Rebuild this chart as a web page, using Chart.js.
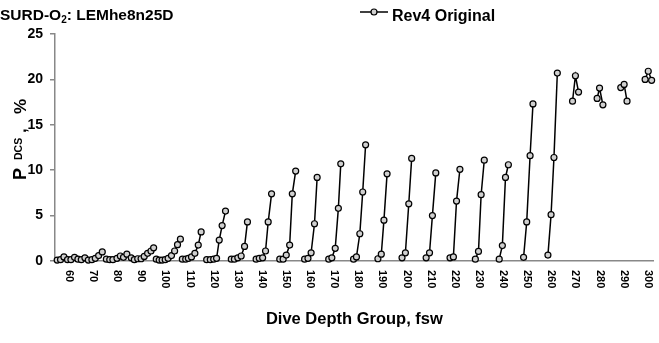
<!DOCTYPE html>
<html>
<head>
<meta charset="utf-8">
<script src="https://cdn.jsdelivr.net/npm/chart.js@4.4.0/dist/chart.umd.min.js"></script>
<style>
  html, body { margin: 0; padding: 0; background: #fff; }
  #wrap { width: 659px; height: 343px; position: relative; }
</style>
</head>
<body>
<div id="wrap"><canvas id="myChart"></canvas></div>
<script>
// x tick labels (dive depth groups, fsw)
const xTickLabels = [60, 70, 80, 90, 100, 110, 120, 130, 140, 150, 160, 170, 180,
  190, 200, 210, 220, 230, 240, 250, 260, 270, 280, 290, 300];

// point positions along the depth axis, null = break between groups
const depthX = [
  55.1, 56.5, 57.9, 59.4, 60.8, 62.3, 63.7, 65.1, 66.6, 68.0, 69.5, 70.9, 72.3, 73.8, null,
  75.5, 76.9, 78.2, 79.9, 81.3, 82.6, 84.0, 85.8, 87.1, 88.5, 89.9, 91.2, 92.6, 94.0, 95.1, null,
  96.2, 97.4, 98.6, 99.9, 101.1, 102.5, 103.8, 105.0, 106.2, null,
  107.0, 108.4, 109.5, 110.8, 112.2, 113.6, 114.8, null,
  117.1, 118.6, 120.0, 121.2, 122.3, 123.5, 124.9, null,
  127.3, 128.6, 130.0, 131.4, 132.8, 134.0, null,
  137.6, 138.9, 140.3, 141.5, 142.6, 144.0, null,
  147.4, 148.8, 150.1, 151.5, 152.6, 154.0, null,
  157.7, 159.1, 160.4, 161.8, 162.9, null,
  167.7, 169.0, 170.4, 171.7, 172.7, null,
  178.0, 179.2, 180.6, 181.8, 183.0, null,
  188.1, 189.5, 190.6, 191.9, null,
  198.1, 199.5, 200.9, 202.1, null,
  208.1, 209.5, 210.7, 212.1, null,
  218.0, 219.4, 220.7, 222.1, null,
  228.5, 229.8, 230.9, 232.2, null,
  238.4, 239.7, 241.0, 242.2, null,
  248.5, 249.8, 251.2, 252.4, null,
  258.6, 259.9, 261.1, 262.5, null,
  268.8, 270.0, 271.3, null,
  279.0, 280.0, 281.4, null,
  288.8, 290.2, 291.4, null,
  298.9, 300.2, 301.6
];

// P(DCS), %
const pdcs = [
  0.1, 0.15, 0.45, 0.15, 0.15, 0.4, 0.2, 0.15, 0.35, 0.1, 0.15, 0.3, 0.6, 1.0, null,
  0.2, 0.15, 0.15, 0.3, 0.55, 0.4, 0.75, 0.35, 0.15, 0.25, 0.25, 0.5, 0.85, 1.1, 1.45, null,
  0.2, 0.1, 0.1, 0.15, 0.3, 0.6, 1.1, 1.8, 2.4, null,
  0.2, 0.2, 0.3, 0.45, 0.85, 1.75, 3.2, null,
  0.15, 0.15, 0.2, 0.3, 2.3, 3.9, 5.5, null,
  0.2, 0.2, 0.35, 0.55, 1.6, 4.3, null,
  0.2, 0.3, 0.35, 1.1, 4.3, 7.4, null,
  0.2, 0.2, 0.65, 1.75, 7.4, 9.9, null,
  0.2, 0.3, 0.9, 4.1, 9.2, null,
  0.2, 0.35, 1.4, 5.8, 10.7, null,
  0.2, 0.45, 3.0, 7.6, 12.8, null,
  0.25, 0.75, 4.5, 9.6, null,
  0.35, 0.9, 6.3, 11.3, null,
  0.35, 0.9, 5.0, 9.7, null,
  0.35, 0.45, 6.6, 10.1, null,
  0.2, 1.05, 7.3, 11.1, null,
  0.2, 1.7, 9.2, 10.6, null,
  0.4, 4.3, 11.6, 17.3, null,
  0.65, 5.1, 11.4, 20.7, null,
  17.6, 20.4, 18.6, null,
  17.9, 19.05, 17.2, null,
  19.1, 19.45, 17.6, null,
  20.0, 20.9, 19.9
];

const FONT = '"Liberation Sans", Arial, sans-serif';
Chart.defaults.font.family = FONT;

// title, legend, rotated x labels and y title drawn by hand
const extras = {
  id: 'extras',
  afterDraw(chart) {
    const ctx = chart.ctx;
    const xs = chart.scales.x;
    ctx.save();
    ctx.fillStyle = '#000';
    ctx.textAlign = 'left';
    ctx.textBaseline = 'alphabetic';

    // chart title with subscript 2
    let tx = 0;
    ctx.font = 'bold 15.5px ' + FONT;
    ctx.fillText('SURD-O', tx, 20);
    tx += ctx.measureText('SURD-O').width;
    ctx.font = 'bold 10px ' + FONT;
    ctx.fillText('2', tx, 23);
    tx += ctx.measureText('2').width;
    ctx.font = 'bold 15.5px ' + FONT;
    ctx.fillText(': LEMhe8n25D', tx, 20);

    // legend
    ctx.strokeStyle = '#000';
    ctx.lineWidth = 1.5;
    ctx.beginPath();
    ctx.moveTo(360, 12);
    ctx.lineTo(388, 12);
    ctx.stroke();
    ctx.beginPath();
    ctx.arc(374, 12, 3, 0, Math.PI * 2);
    ctx.fillStyle = '#d0d0d0';
    ctx.fill();
    ctx.lineWidth = 1.2;
    ctx.stroke();
    ctx.fillStyle = '#000';
    ctx.font = 'bold 16px ' + FONT;
    ctx.fillText('Rev4 Original', 392, 21);

    // x tick labels, rotated clockwise
    ctx.font = 'bold 11px ' + FONT;
    ctx.textBaseline = 'middle';
    xTickLabels.forEach(v => {
      const px = xs.getPixelForValue(v);
      ctx.save();
      ctx.translate(px, 270);
      ctx.rotate(Math.PI / 2);
      ctx.fillText(String(v), 0, 0);
      ctx.restore();
    });

    // y axis title
    ctx.textBaseline = 'alphabetic';
    ctx.save();
    ctx.translate(26, 180);
    ctx.rotate(-Math.PI / 2);
    ctx.font = 'bold 18px ' + FONT;
    ctx.fillText('P', 0, 0);
    ctx.font = 'bold 10.5px ' + FONT;
    ctx.fillText('DCS', 20, -4);
    ctx.font = 'bold 17px ' + FONT;
    ctx.fillText(',', 47, 0);
    ctx.fillText('%', 66, 0);
    ctx.restore();

    ctx.restore();
  }
};

const chartData = {
  datasets: [{
    label: 'Rev4 Original',
    data: depthX.map((x, i) => ({ x: x === null ? depthX[i - 1] + 0.5 : x, y: pdcs[i] })),
    borderColor: '#000',
    borderWidth: 1.5,
    pointRadius: 3,
    pointBorderWidth: 1.2,
    pointBackgroundColor: '#d0d0d0',
    pointBorderColor: '#000',
    spanGaps: false,
    tension: 0,
    clip: false
  }]
};

const chartConfig = {
  type: 'line',
  data: chartData,
  options: {
    responsive: true,
    maintainAspectRatio: false,
    animation: false,
    layout: { padding: { top: 34, right: 0, bottom: 0, left: 0 } },
    scales: {
      x: {
        type: 'linear',
        min: 54.2,
        max: 302.5,
        grid: { display: false },
        border: { display: true, color: '#888', width: 1.5 },
        ticks: { display: false },
        title: {
          display: true,
          text: 'Dive Depth Group, fsw',
          color: '#000',
          font: { size: 16.5, weight: 'bold' },
          padding: { top: 0, bottom: 14 }
        },
        afterFit(scale) { scale.height = 82; }
      },
      y: {
        min: 0,
        max: 25,
        ticks: { stepSize: 5, color: '#000', padding: 7, font: { size: 14, weight: 'bold' } },
        grid: { drawOnChartArea: false, drawTicks: true, tickLength: 5, color: '#888', lineWidth: 1.5 },
        border: { color: '#888', width: 1.5 },
        afterFit(scale) { scale.width = 55; }
      }
    },
    plugins: {
      legend: { display: false },
      tooltip: { enabled: false }
    }
  },
  plugins: [extras]
};

const myChart = new Chart(document.getElementById('myChart'), chartConfig);
</script>
</body>
</html>
